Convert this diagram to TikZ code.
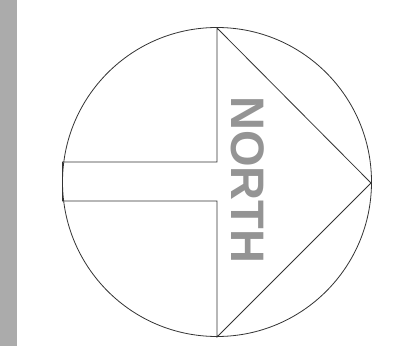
\documentclass[tikz,border=0pt]{standalone}
\usepackage{fontspec}
\newfontfamily\signfont{Liberation Sans}
\begin{document}
\begin{tikzpicture}[x=1pt, y=1pt, line join=miter]
  \useasboundingbox (0,0) rectangle (412,346);
  \fill[white] (0,0) rectangle (412,346);
  \fill[black!33] (0,0) rectangle (17,346);

  \coordinate (O) at (217,164);
  \coordinate (top) at (217,318);
  \coordinate (tip) at (371,163);
  \coordinate (bottom) at (217,9);

  \draw[black!80, line width=0.8pt] (O) circle (154.5);
  \draw[black!80, line width=0.8pt]
    (62.5,184) -- (217,184) -- (top) -- (tip) -- (bottom)
    -- (217,145) -- (62.5,145) -- cycle;

  \node[rotate=-90, inner sep=0pt, text=black!42, font=\signfont\bfseries\fontsize{47}{47}\selectfont]
    (north) at (248,166) {NORTH};
\end{tikzpicture}
\end{document}
